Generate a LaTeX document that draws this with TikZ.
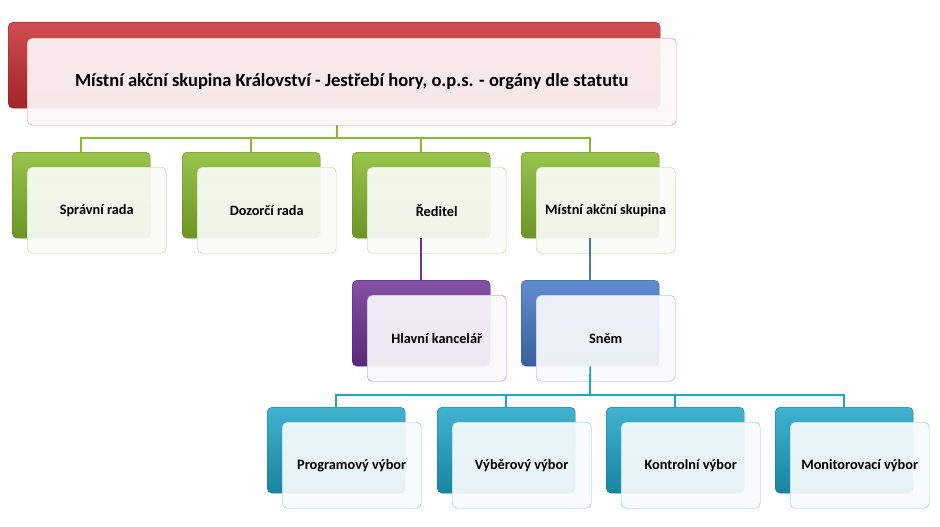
\documentclass[tikz,border=0pt]{standalone}
\usepackage{fontspec}
\setmainfont{Carlito}
\begin{document}
\begin{tikzpicture}[x=1pt,y=-1pt,
  back/.style={rounded corners=5pt,minimum width=138pt,minimum height=86pt,anchor=north west,draw=#1!70!black,top color=#1!85!white,bottom color=#1!80!black},
  front/.style={rounded corners=5pt,minimum width=139pt,minimum height=86pt,anchor=north west,draw=#1!60!white,fill=#1!4!white,fill opacity=0.93,text opacity=1,font=\bfseries\fontsize{14.3}{16}\selectfont},
  conn/.style={draw=#1,line width=1.8pt}]
\definecolor{cred}{RGB}{200,45,50}
\definecolor{cgreen}{RGB}{135,185,45}
\definecolor{cpurple}{RGB}{110,50,150}
\definecolor{cblue}{RGB}{70,120,200}
\definecolor{ccyan}{RGB}{30,165,200}
\useasboundingbox (0,0) rectangle (940,527);
% top
\node[back=cred,minimum width=652pt] (tb) at (8,22) {};
\node[front=cred,minimum width=649pt,minimum height=87pt,font=\bfseries\fontsize{18.5}{22}\selectfont] (t) at (27,38) {Místní akční skupina Království - Jestřebí hory, o.p.s. - orgány dle statutu};
% row 2
\foreach \n/\x in {a/12,b/182,c/352,d/521}{
  \node[back=cgreen] (\n b) at (\x,152) {};
}
\coordinate (j1) at (337,138);
\draw[conn=cgreen] (t.south -| j1) -- (j1);
\draw[conn=cgreen] (ab.north) |- (j1) -| (db.north);
\draw[conn=cgreen] (bb.north) -- (bb.north |- j1);
\draw[conn=cgreen] (cb.north) -- (cb.north |- j1);
\foreach \n/\x/\l in {a/12/Správní rada,b/182/Dozorčí rada,c/352/Ředitel,d/521/Místní akční skupina}{
  \node[front=cgreen] (\n) at (\x+15,167) {\l};
}
% row 3
\node[back=cpurple] (hb) at (352,280) {};
\node[back=cblue] (sb) at (521,280) {};
\draw[conn=cpurple] (cb.south) -- (hb.north);
\draw[conn=cblue] (db.south) -- (sb.north);
\node[front=cpurple] (h) at (367,295) {Hlavní kancelář};
\node[front=cblue] (s) at (536,295) {Sněm};
% row 4
\foreach \n/\x in {p/267,v/437,k/606,m/775}{
  \node[back=ccyan] (\n b) at (\x,407) {};
}
\coordinate (j2) at (590,395);
\draw[conn=ccyan] (sb.south) -- (j2);
\draw[conn=ccyan] (pb.north) |- (j2) -| (mb.north);
\draw[conn=ccyan] (vb.north) -- (vb.north |- j2);
\draw[conn=ccyan] (kb.north) -- (kb.north |- j2);
\foreach \n/\x/\l in {p/267/Programový výbor,v/437/Výběrový výbor,k/606/Kontrolní výbor,m/775/Monitorovací výbor}{
  \node[front=ccyan] (\n) at (\x+15,422) {\l};
}
\end{tikzpicture}
\end{document}
